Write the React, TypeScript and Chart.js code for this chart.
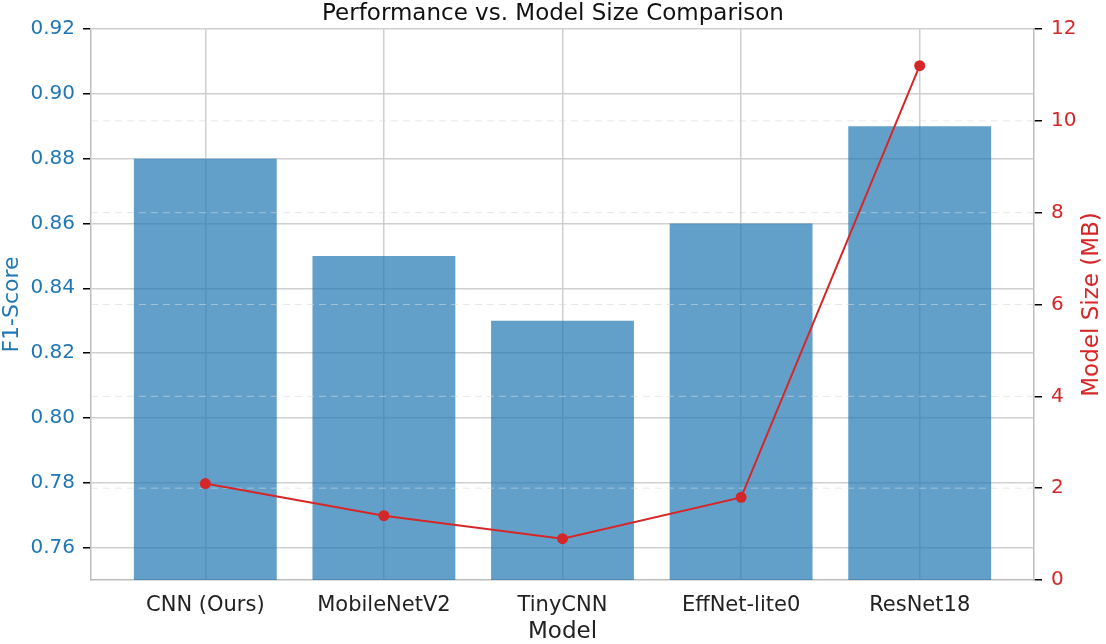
import React, { useEffect, useRef } from "react";
import { Chart, registerables } from "chart.js";

Chart.register(...registerables);

const categories = ["CNN (Ours)", "MobileNetV2", "TinyCNN", "EffNet-lite0", "ResNet18"];
const f1Scores = [0.88, 0.85, 0.83, 0.86, 0.89];
const modelSizes = [2.1, 1.4, 0.9, 1.8, 11.2];
const f1Ticks = [0.76, 0.78, 0.8, 0.82, 0.84, 0.86, 0.88, 0.9, 0.92];
const sizeTicks = [0, 2, 4, 6, 8, 10, 12];

const FONT = "'DejaVu Sans', Verdana, sans-serif";
const BLUE_TXT = "#1f77b4";
const RED = "#d62728";
const RIGHT_TITLE = "Model Size (MB)";

const y2GridPlugin = {
  id: "y2Grid",
  beforeDatasetDraw(chart: any, args: any) {
    const ds = chart.data.datasets[args.index];
    if (!ds || ds.type !== "line") return;
    const { ctx, chartArea } = chart;
    const s = chart.scales.y2;
    ctx.save();
    ctx.strokeStyle = "rgba(215,215,215,0.6)";
    ctx.lineWidth = 1;
    ctx.setLineDash([7, 5]);
    s.ticks.forEach((t: any) => {
      const y = s.getPixelForValue(t.value);
      if (y <= chartArea.top + 1 || y >= chartArea.bottom - 1) return;
      ctx.beginPath();
      ctx.moveTo(chartArea.left, y);
      ctx.lineTo(chartArea.right, y);
      ctx.stroke();
    });
    ctx.restore();
  },
  afterDraw(chart: any) {
    const { ctx, chartArea } = chart;
    const s = chart.scales.y2;
    const cx = s.right - 14;
    const cy = (chartArea.top + chartArea.bottom) / 2;
    ctx.save();
    ctx.translate(cx, cy);
    ctx.rotate(-Math.PI / 2);
    ctx.fillStyle = RED;
    ctx.font = `23px ${FONT}`;
    ctx.textAlign = "center";
    ctx.textBaseline = "middle";
    ctx.fillText(RIGHT_TITLE, 0, 0);
    ctx.restore();
  },
};

export default function App() {
  const ref = useRef<HTMLCanvasElement | null>(null);

  useEffect(() => {
    if (!ref.current) return;
    const chart = new Chart(ref.current, {
      type: "bar",
      data: {
        datasets: [
          {
            type: "line",
            label: "Model Size (MB)",
            data: modelSizes.map((v, i) => ({ x: i, y: v })),
            yAxisID: "y2",
            xAxisID: "x",
            borderColor: RED,
            backgroundColor: RED,
            borderWidth: 2,
            pointRadius: 5.5,
            pointBorderWidth: 0,
            pointBackgroundColor: RED,
            tension: 0,
            order: 0,
          } as any,
          {
            type: "bar",
            label: "F1-Score",
            data: f1Scores.map((v, i) => ({ x: i, y: v })),
            yAxisID: "y",
            xAxisID: "x",
            backgroundColor: "rgba(31,119,180,0.7)",
            borderWidth: 0,
            barPercentage: 0.8,
            categoryPercentage: 1.0,
            order: 1,
          } as any,
        ],
      },
      options: {
        responsive: false,
        animation: false,
        layout: { padding: 0 },
        plugins: {
          legend: { display: false },
          tooltip: { enabled: false },
          title: {
            display: true,
            text: "Performance vs. Model Size Comparison",
            color: "#111",
            font: { family: FONT, size: 23, weight: "normal", lineHeight: 1.2 },
            padding: { top: 0, bottom: 1.4 },
          },
        },
        scales: {
          x: {
            type: "linear",
            min: -0.64,
            max: 4.64,
            offset: false,
            afterBuildTicks: (scale: any) => {
              scale.ticks = categories.map((_, i) => ({ value: i }));
            },
            afterFit: (scale: any) => {
              scale.height = 64;
            },
            ticks: {
              autoSkip: false,
              maxRotation: 0,
              padding: 13,
              color: "#222",
              font: { family: FONT, size: 21 },
              callback: (v: any) => categories[Math.round(Number(v))] ?? "",
            },
            grid: { color: "#cfcfcf", lineWidth: 1.5, drawTicks: false, offset: false },
            border: { color: "#bdbdbd", width: 1.5 },
            title: {
              display: true,
              text: "Model",
              color: "#222",
              font: { family: FONT, size: 23, lineHeight: 1.0 },
              padding: { top: 0, bottom: 0 },
            },
          },
          y: {
            type: "linear",
            position: "left",
            min: 0.75,
            max: 0.92,
            afterBuildTicks: (scale: any) => {
              scale.ticks = f1Ticks.map((v) => ({ value: v }));
            },
            afterFit: (scale: any) => {
              scale.width = 91;
            },
            ticks: {
              padding: 8,
              color: BLUE_TXT,
              font: { family: FONT, size: 20 },
              callback: (v: any) => Number(v).toFixed(2),
            },
            grid: {
              color: "#cfcfcf",
              lineWidth: 1.5,
              tickColor: "#000",
              tickLength: 8,
              tickWidth: 1.5,
            },
            border: { color: "#bdbdbd", width: 1.5 },
            title: {
              display: true,
              text: "F1-Score",
              color: BLUE_TXT,
              font: { family: FONT, size: 22, lineHeight: 1.0 },
              padding: { top: 1, bottom: 0 },
            },
          },
          y2: {
            type: "linear",
            position: "right",
            min: 0,
            max: 12,
            afterBuildTicks: (scale: any) => {
              scale.ticks = sizeTicks.map((v) => ({ value: v }));
            },
            afterFit: (scale: any) => {
              scale.width = 72;
            },
            ticks: {
              padding: 9,
              color: RED,
              font: { family: FONT, size: 20 },
              callback: (v: any) => String(Math.round(Number(v))),
            },
            grid: {
              drawOnChartArea: false,
              tickColor: "#000",
              tickLength: 8,
              tickWidth: 1.5,
              lineWidth: 1.5,
            },
            border: { color: "#bdbdbd", width: 1.5 },
            title: { display: false },
          },
        },
      } as any,
      plugins: [y2GridPlugin],
    });
    return () => chart.destroy();
  }, []);

  return (
    <div style={{ position: "fixed", left: 0, top: 0, width: 1106, height: 644, background: "#fff" }}>
      <canvas ref={ref} width={1106} height={644} style={{ display: "block" }} />
    </div>
  );
}
